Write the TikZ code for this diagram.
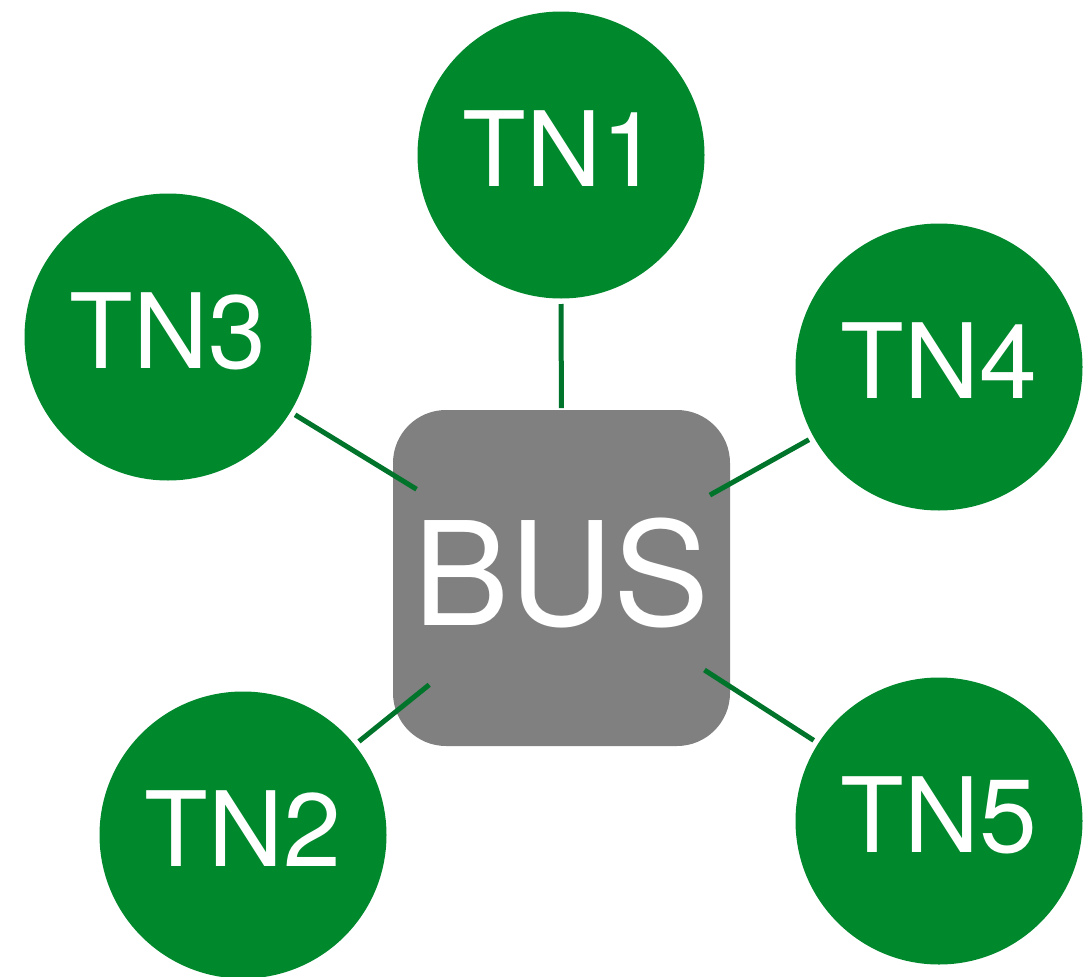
\documentclass[tikz,border=0pt]{standalone}
\usepackage{fontspec}
\setmainfont{TeX Gyre Heros}
\usetikzlibrary{calc}
\definecolor{tngreen}{HTML}{00882D}
\definecolor{lngreen}{HTML}{00742A}
\definecolor{busgray}{HTML}{808080}
\tikzset{
  tn/.style={circle, fill=tngreen, minimum size=287pt, inner sep=0pt, text=white, text depth=12pt, font=\fontsize{104}{104}\selectfont},
  busbox/.style={rectangle, rounded corners=53pt, fill=busgray, minimum width=337pt, minimum height=336pt, inner sep=0pt, text=white, text depth=12pt, font=\fontsize{144}{144}\selectfont},
  link/.style={draw=lngreen, line width=5pt}
}
\begin{document}
\begin{tikzpicture}[x=1pt,y=-1pt]
\useasboundingbox (0,0) rectangle (1090,977);
\node[busbox] (bus) at (561.5,578) {BUS};
\node[tn] (tn1) at (561,155) {TN1};
\node[tn] (tn3) at (168,337) {TN3};
\node[tn] (tn4) at (939,367) {TN4};
\node[tn] (tn2) at (243,835) {TN2};
\node[tn] (tn5) at (939,821) {TN5};
\foreach \n in {tn1,tn2,tn3,tn4,tn5}{
  \draw[link] ($(\n.center)!149pt!(bus.center)$) -- ($(bus.center)!170pt!(\n.center)$);
}
\end{tikzpicture}
\end{document}
